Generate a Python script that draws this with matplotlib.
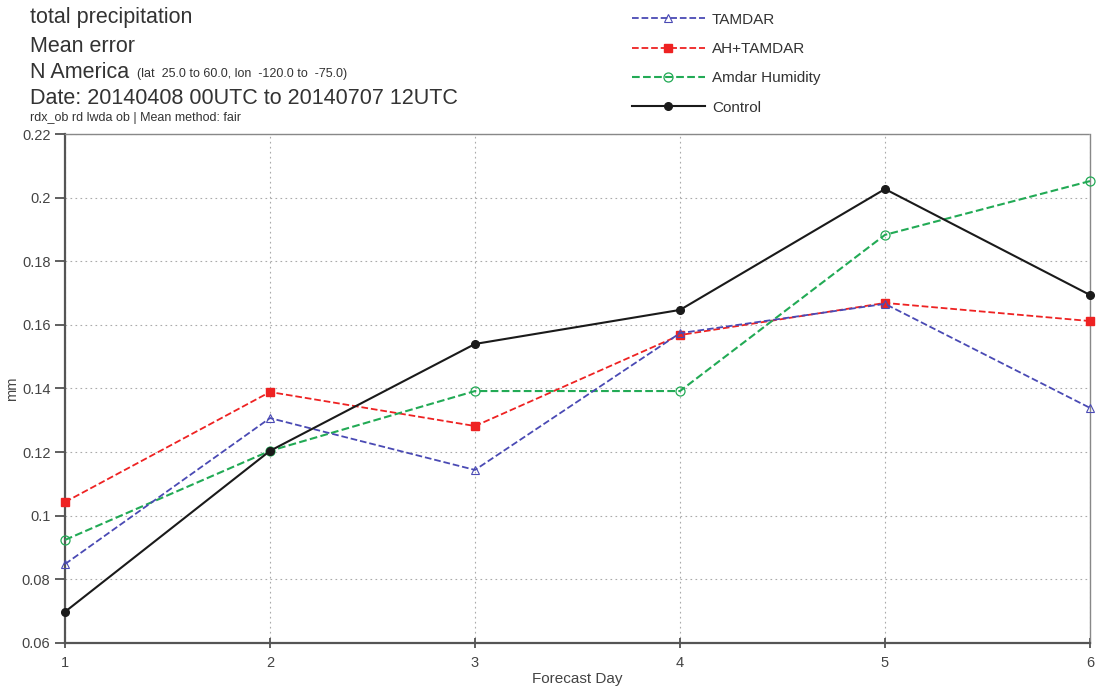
import matplotlib
matplotlib.use('Agg')
import matplotlib.pyplot as plt

plt.rcParams['font.family'] = ['Liberation Sans', 'DejaVu Sans']

days = [1, 2, 3, 4, 5, 6]
tamdar = [0.0848, 0.1307, 0.1144, 0.1574, 0.1666, 0.1339]
ah_tamdar = [0.1043, 0.1389, 0.1282, 0.1568, 0.1669, 0.1612]
amdar_hum = [0.0924, 0.1204, 0.1392, 0.1392, 0.1883, 0.2052]
control = [0.0698, 0.1204, 0.1540, 0.1647, 0.2027, 0.1694]
yticks = [0.06, 0.08, 0.1, 0.12, 0.14, 0.16, 0.18, 0.2, 0.22]
ytick_labels = ['0.06', '0.08', '0.1', '0.12', '0.14', '0.16', '0.18', '0.2', '0.22']

fig = plt.figure(figsize=(10.96, 6.88), dpi=100)
ax = fig.add_axes([65/1096, 1 - 643/688, 1025/1096, 509/688])

ax.plot(days, tamdar, color='#4a4ab4', ls='--', lw=1.3, marker='^', ms=5.5,
        mfc='none', mew=0.8, label='TAMDAR', clip_on=False, zorder=4)
ax.plot(days, ah_tamdar, color='#ee2222', ls='--', lw=1.3, marker='s', ms=6,
        label='AH+TAMDAR', clip_on=False, zorder=3)
ax.plot(days, amdar_hum, color='#22aa55', ls='--', lw=1.5, marker='o', ms=6.5,
        mfc='none', mew=0.9, label='Amdar Humidity', clip_on=False, zorder=3)
ax.plot(days, control, color='#1a1a1a', ls='-', lw=1.5, marker='o', ms=5.5,
        label='Control', clip_on=False, zorder=5)

ax.set_xlim(1, 6)
ax.set_ylim(0.06, 0.22)
ax.set_xticks(days)
ax.set_yticks(yticks)
ax.set_yticklabels(ytick_labels)
ax.tick_params(axis='both', colors='#444444', labelsize=10.5, length=7, width=1.2)
ax.tick_params(axis='x', direction='inout', pad=6)
ax.grid(True, color='#aaaaaa', ls=(0, (1.5, 3)), lw=0.8)

for side in ['left', 'bottom']:
    ax.spines[side].set_linewidth(1.6)
    ax.spines[side].set_color('#555555')
for side in ['top', 'right']:
    ax.spines[side].set_linewidth(1.0)
    ax.spines[side].set_color('#888888')
    ax.spines[side].set_linestyle((0, (2, 1)))

ax.set_xlabel('Forecast Day', fontsize=11, color='#444444', labelpad=1)
ax.set_ylabel('mm', fontsize=10.5, color='#444444', labelpad=2)

# header text block
hdr = dict(fontsize=15.5, color='#333333', va='center')
fig.text(30/1096, 1 - 18/688, 'total precipitation', **hdr)
fig.text(30/1096, 1 - 46/688, 'Mean error', **hdr)
fig.text(30/1096, 1 - 72/688, 'N America', **hdr)
fig.text(137/1096, 1 - 74/688, '(lat  25.0 to 60.0, lon  -120.0 to  -75.0)', fontsize=9,
         color='#333333', va='center')
fig.text(30/1096, 1 - 98/688, 'Date: 20140408 00UTC to 20140707 12UTC', **hdr)
fig.text(30/1096, 1 - 118/688, 'rdx_ob rd lwda ob | Mean method: fair', fontsize=9,
         color='#333333', va='center')

fig.legend(loc='upper left', bbox_to_anchor=(618/1096, 1 + 1/688), frameon=False,
           fontsize=11, handlelength=4.8, labelspacing=1.0, handletextpad=0.45,
           labelcolor='#333333')

fig.savefig('out.png', dpi=100)
